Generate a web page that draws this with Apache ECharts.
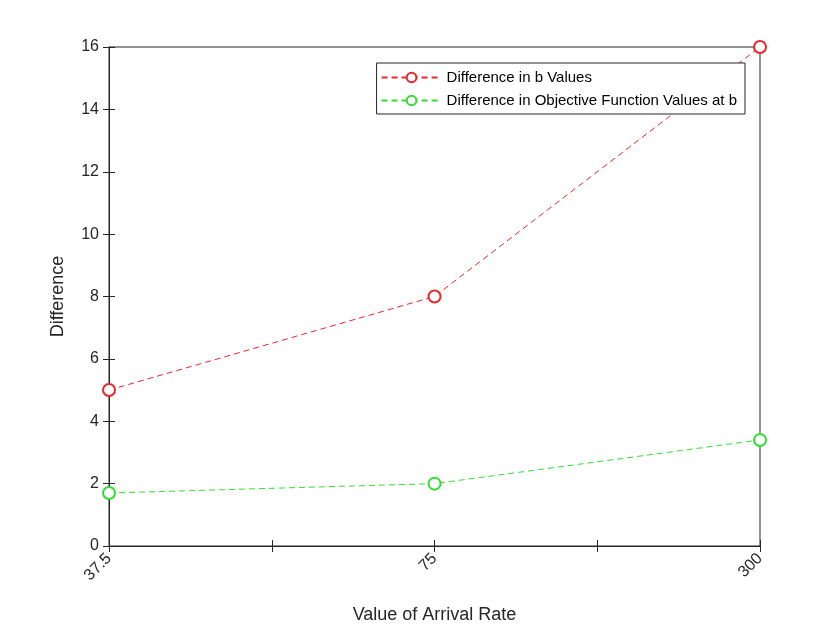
<!DOCTYPE html>
<html>
<head>
<meta charset="utf-8">
<script src="https://cdn.jsdelivr.net/npm/echarts@6/dist/echarts.min.js"></script>
<style>html,body{margin:0;background:#fff}#c{width:840px;height:630px}</style>
</head>
<body>
<div id="c"></div>
<script>
// arrival rate categories, spaced evenly on the axis
var categories = ['37.5', '75', '300'];
var diffB = [5, 8, 16];
var diffObj = [1.7, 2.0, 3.4];

var chart = echarts.init(document.getElementById('c'));

function pairs(vals) {
  return vals.map(function (v, i) { return [i * 2, v]; });
}

var font = 'Helvetica, Arial, "Liberation Sans", sans-serif';
var axLine = {show: true, lineStyle: {color: '#262626', width: 1}};
var tickIn = {show: true, inside: true, length: 6, lineStyle: {color: '#262626'}};

var option = {
  backgroundColor: '#fff',
  textStyle: {fontFamily: font},
  grid: {left: 109, right: 80, top: 47, bottom: 84, show: true, borderColor: '#262626', borderWidth: 1},
  legend: {
    orient: 'vertical', right: 95, top: 63,
    backgroundColor: '#fff', borderColor: '#262626', borderWidth: 1,
    padding: [7, 8, 6, 4], itemGap: 8, itemWidth: 60, itemHeight: 12,
    textStyle: {fontSize: 15, color: '#000', fontFamily: font},
    data: ['Difference in b Values', 'Difference in Objective Function Values at b']
  },
  xAxis: [{
    type: 'value', min: 0, max: 4, interval: 1,
    name: 'Value of Arrival Rate', nameLocation: 'middle', nameGap: 60,
    nameTextStyle: {fontSize: 18, color: '#262626'},
    axisLine: axLine, axisTick: tickIn, splitLine: {show: false},
    axisLabel: {
      rotate: 45, fontSize: 16, color: '#262626', margin: 10,
      formatter: function (v) { return v % 2 === 0 ? categories[v / 2] : ''; }
    }
  }, {
    type: 'value', min: 0, max: 4, interval: 1, position: 'top',
    axisLine: axLine, axisTick: tickIn, axisLabel: {show: false}, splitLine: {show: false}
  }],
  yAxis: [{
    type: 'value', min: 0, max: 16, interval: 2,
    name: 'Difference', nameLocation: 'middle', nameGap: 42,
    nameTextStyle: {fontSize: 18, color: '#262626'},
    axisLine: axLine, axisTick: tickIn, splitLine: {show: false},
    axisLabel: {fontSize: 16, color: '#262626', margin: 10}
  }, {
    type: 'value', min: 0, max: 16, interval: 2, position: 'right',
    axisLine: axLine, axisTick: tickIn, axisLabel: {show: false}, splitLine: {show: false}
  }],
  series: [{
    name: 'Difference in b Values', type: 'line', data: pairs(diffB),
    symbol: 'emptyCircle', symbolSize: 12,
    lineStyle: {color: '#e8262c', width: 1, type: [6, 4]},
    itemStyle: {color: '#e8262c', borderWidth: 0.8}
  }, {
    name: 'Difference in Objective Function Values at b', type: 'line', data: pairs(diffObj),
    symbol: 'emptyCircle', symbolSize: 12,
    lineStyle: {color: '#33dd33', width: 1, type: [6, 4]},
    itemStyle: {color: '#33dd33', borderWidth: 0.8}
  }]
};
chart.setOption(option);
</script>
</body>
</html>
